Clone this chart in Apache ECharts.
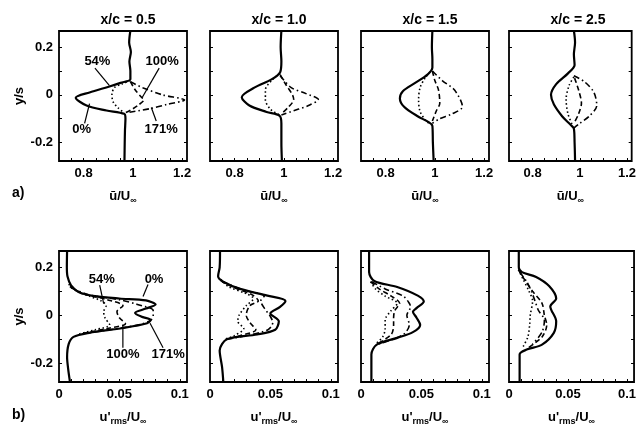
<!DOCTYPE html>
<html><head><meta charset="utf-8">
<script src="https://cdn.jsdelivr.net/npm/echarts@6.0.0/dist/echarts.min.js"></script>
<style>html,body{margin:0;padding:0;background:#fff}#c{width:639px;height:429px}</style>
</head><body><div id="c"></div>
<script>
// ---------- labels ----------
const stations = ['x/c = 0.5', 'x/c = 1.0', 'x/c = 1.5', 'x/c = 2.5'];
const cases = ['0%', '54%', '100%', '171%'];
const meanLabelTicks = [0.8, 1, 1.2];
const meanMinorTicks = [0.75, 0.8, 0.85, 0.9, 0.95, 1, 1.05, 1.1, 1.15, 1.2];
const rmsLabelTicks = [0, 0.05, 0.1];
const rmsMinorTicks = [0.01, 0.02, 0.03, 0.04, 0.05, 0.06, 0.07, 0.08, 0.09, 0.1];
const yLabelTicks = [-0.2, 0, 0.2];
const yMinorTicks = [-0.2, -0.1, 0, 0.1, 0.2];

// ---------- a) mean velocity profiles [u/Uinf, y/s] ----------
const mean05_0 = [[0.99,0.27],[0.985,0.22],[0.992,0.18],[0.986,0.14],[0.99,0.1],[0.99,0.065],[0.95,0.05],[0.905,0.035],[0.824,0.01],[0.768,-0.012],[0.812,-0.045],[0.893,-0.066],[0.965,-0.08],[0.97,-0.1],[0.968,-0.15],[0.967,-0.2],[0.966,-0.275]];
const mean05_54 = [[0.99,0.06],[0.955,0.045],[0.925,0.03],[0.915,0.0],[0.92,-0.03],[0.94,-0.055],[0.965,-0.075]];
const mean05_100 = [[0.99,0.055],[1.01,0.02],[1.035,-0.01],[1.045,-0.02],[1.02,-0.045],[0.99,-0.065],[0.97,-0.075]];
const mean05_171 = [[0.99,0.055],[1.04,0.03],[1.12,0.0],[1.21,-0.022],[1.14,-0.04],[1.07,-0.058],[0.975,-0.075]];

const mean10_0 = [[0.99,0.27],[0.987,0.2],[0.99,0.14],[0.985,0.095],[0.95,0.065],[0.88,0.03],[0.829,-0.01],[0.86,-0.045],[0.93,-0.072],[0.983,-0.088],[0.99,-0.12],[0.99,-0.2],[0.992,-0.275]];
const mean10_54 = [[0.985,0.09],[0.95,0.06],[0.925,0.02],[0.925,-0.02],[0.945,-0.06],[0.983,-0.085]];
const mean10_100 = [[0.985,0.085],[1.01,0.04],[1.035,0.0],[1.04,-0.02],[1.02,-0.05],[0.99,-0.08]];
const mean10_171 = [[0.985,0.08],[1.03,0.03],[1.09,0.005],[1.14,-0.02],[1.1,-0.045],[1.06,-0.06],[0.99,-0.085]];

const mean15_0 = [[0.99,0.27],[0.988,0.2],[0.99,0.15],[0.99,0.115],[0.97,0.085],[0.92,0.05],[0.87,0.015],[0.858,-0.015],[0.875,-0.05],[0.93,-0.09],[0.975,-0.115],[0.99,-0.13],[0.992,-0.2],[0.995,-0.275]];
const mean15_54 = [[0.99,0.11],[0.96,0.07],[0.94,0.03],[0.934,-0.02],[0.94,-0.07],[0.965,-0.11],[0.985,-0.125]];
const mean15_100 = [[0.99,0.1],[1.0,0.06],[1.015,0.02],[1.02,-0.035],[1.005,-0.07],[0.99,-0.11]];
const mean15_171 = [[0.99,0.1],[1.03,0.06],[1.08,0.02],[1.112,-0.05],[1.07,-0.08],[1.02,-0.1],[0.99,-0.12]];

const mean25_0 = [[0.975,0.27],[0.98,0.22],[0.975,0.17],[0.978,0.125],[0.95,0.09],[0.9,0.045],[0.878,0.0],[0.89,-0.04],[0.925,-0.09],[0.96,-0.125],[0.975,-0.142],[0.978,-0.2],[0.98,-0.275]];
const mean25_54 = [[0.975,0.075],[0.955,0.04],[0.942,-0.02],[0.95,-0.08],[0.97,-0.13]];
const mean25_100 = [[0.978,0.07],[0.995,0.02],[1.007,-0.035],[0.995,-0.08],[0.975,-0.12]];
const mean25_171 = [[0.975,0.08],[1.02,0.055],[1.06,0.01],[1.072,-0.045],[1.04,-0.09],[1.0,-0.12],[0.975,-0.14]];

// ---------- b) rms velocity profiles [u'rms/Uinf, y/s] ----------
const rms05_0 = [[0.0067,0.27],[0.0065,0.2],[0.007,0.163],[0.01,0.125],[0.017,0.095],[0.03,0.08],[0.05,0.07],[0.072,0.062],[0.08,0.045],[0.072,0.028],[0.063,0.01],[0.068,-0.005],[0.076,-0.02],[0.073,-0.033],[0.053,-0.053],[0.025,-0.073],[0.012,-0.09],[0.008,-0.12],[0.0067,-0.175],[0.0075,-0.22],[0.009,-0.275]];
const rms05_54 = [[0.008,0.13],[0.015,0.1],[0.025,0.08],[0.035,0.06],[0.039,0.04],[0.037,0.015],[0.038,-0.01],[0.042,-0.04],[0.03,-0.06],[0.015,-0.08]];
const rms05_100 = [[0.009,0.12],[0.02,0.09],[0.04,0.065],[0.053,0.04],[0.048,0.015],[0.05,-0.01],[0.055,-0.035],[0.04,-0.055],[0.02,-0.075]];
const rms05_171 = [[0.01,0.115],[0.025,0.085],[0.05,0.065],[0.065,0.045],[0.078,0.02],[0.078,-0.002],[0.076,-0.02],[0.066,-0.04],[0.045,-0.058],[0.022,-0.075]];

const rms10_0 = [[0.0083,0.27],[0.008,0.2],[0.0067,0.163],[0.011,0.14],[0.025,0.11],[0.0475,0.082],[0.0625,0.06],[0.058,0.035],[0.05,0.008],[0.057,-0.025],[0.054,-0.06],[0.039,-0.08],[0.014,-0.1],[0.008,-0.147],[0.01,-0.216],[0.011,-0.275]];
const rms10_54 = [[0.009,0.15],[0.015,0.12],[0.03,0.09],[0.036,0.07],[0.03,0.04],[0.024,0.0],[0.023,-0.025],[0.028,-0.055],[0.02,-0.085],[0.012,-0.1]];
const rms10_100 = [[0.009,0.145],[0.02,0.115],[0.035,0.085],[0.04,0.06],[0.033,0.04],[0.03,0.0],[0.033,-0.03],[0.038,-0.06],[0.025,-0.085],[0.013,-0.1]];
const rms10_171 = [[0.01,0.14],[0.028,0.105],[0.045,0.08],[0.042,0.06],[0.045,0.03],[0.05,-0.005],[0.052,-0.03],[0.048,-0.06],[0.03,-0.085],[0.014,-0.1]];

const rms15_0 = [[0.0067,0.27],[0.0067,0.18],[0.011,0.143],[0.03,0.118],[0.047,0.082],[0.052,0.057],[0.046,0.03],[0.043,0.015],[0.046,-0.01],[0.049,-0.04],[0.043,-0.07],[0.03,-0.094],[0.013,-0.122],[0.0086,-0.163],[0.0086,-0.275]];
const rms15_54 = [[0.008,0.14],[0.012,0.11],[0.02,0.08],[0.03,0.05],[0.025,0.02],[0.02,-0.02],[0.02,-0.055],[0.018,-0.09],[0.012,-0.12]];
const rms15_100 = [[0.008,0.14],[0.015,0.11],[0.025,0.08],[0.032,0.05],[0.028,0.02],[0.027,-0.01],[0.027,-0.04],[0.025,-0.08],[0.013,-0.12]];
const rms15_171 = [[0.009,0.14],[0.02,0.11],[0.035,0.08],[0.04,0.05],[0.041,0.035],[0.038,0.0],[0.04,-0.04],[0.035,-0.08],[0.015,-0.12]];

const rms25_0 = [[0.0083,0.27],[0.0083,0.2],[0.011,0.18],[0.023,0.16],[0.034,0.122],[0.04,0.07],[0.035,0.037],[0.04,-0.025],[0.038,-0.073],[0.028,-0.122],[0.015,-0.143],[0.009,-0.163],[0.009,-0.275]];
const rms25_54 = [[0.008,0.19],[0.012,0.15],[0.017,0.1],[0.02,0.06],[0.018,0.0],[0.0175,-0.04],[0.016,-0.09],[0.012,-0.13]];
const rms25_100 = [[0.008,0.19],[0.013,0.15],[0.02,0.1],[0.028,0.05],[0.03,0.0],[0.032,-0.04],[0.028,-0.09],[0.015,-0.14]];
const rms25_171 = [[0.009,0.18],[0.015,0.14],[0.019,0.1],[0.022,0.06],[0.025,0.02],[0.03,-0.02],[0.028,-0.07],[0.02,-0.12]];

// ---------- annotations (data coords of first-column panels) ----------
const annMean = [
  {t:'54%',  at:[0.856,0.14],  from:[0.846,0.112], to:[0.905,0.039]},
  {t:'100%', at:[1.119,0.14],  from:[1.107,0.112], to:[1.038,-0.011]},
  {t:'0%',   at:[0.792,-0.146],from:[0.804,-0.12], to:[0.824,-0.037]},
  {t:'171%', at:[1.115,-0.146],from:[1.095,-0.11], to:[1.075,-0.053]}
];
const annRms = [
  {t:'54%',  at:[0.0354,0.151], from:[0.0337,0.126], to:[0.037,0.049]},
  {t:'0%',   at:[0.0787,0.151], from:[0.0737,0.128], to:[0.0696,0.078]},
  {t:'100%', at:[0.0529,-0.163],from:[0.0529,-0.135],to:[0.0529,-0.041]},
  {t:'171%', at:[0.0904,-0.163],from:[0.0862,-0.135],to:[0.0754,-0.033]}
];

const meanSets = [[mean05_0,mean05_54,mean05_100,mean05_171],[mean10_0,mean10_54,mean10_100,mean10_171],[mean15_0,mean15_54,mean15_100,mean15_171],[mean25_0,mean25_54,mean25_100,mean25_171]];
const rmsSets = [[rms05_0,rms05_54,rms05_100,rms05_171],[rms10_0,rms10_54,rms10_100,rms10_171],[rms15_0,rms15_54,rms15_100,rms15_171],[rms25_0,rms25_54,rms25_100,rms25_171]];

// ---------- layout / style ----------
const FONT = '"Liberation Sans", Arial, sans-serif';
const lefts = [59, 210, 361, 509];
const W = 128;
const rows = [{top:31, height:130}, {top:251, height:131}];
const Y_MIN = -0.278, Y_MAX = 0.268;
const lineStyles = [
  {type:'solid', width:2.2},
  {type:[1.5,2.5], width:1.6},
  {type:[5,3], width:1.6},
  {type:[6,3,1.5,3], width:1.6}
];

const grid = [], xAxis = [], yAxis = [], series = [], title = [];
const nameRich = {
  n: {fontSize:13, fontWeight:'bold', fontFamily:FONT, color:'#000', lineHeight:15, verticalAlign:'top'},
  s: {fontSize:9, fontWeight:'bold', fontFamily:FONT, color:'#000', lineHeight:15, verticalAlign:'bottom'}
};

for (let r = 0; r < 2; r++) {
  for (let c = 0; c < 4; c++) {
    const gi = r * 4 + c;
    grid.push({left: lefts[c], top: rows[r].top, width: W, height: rows[r].height,
      show: true, borderColor: '#000', borderWidth: 1.8, backgroundColor: '#fff'});
    const isMean = r === 0;
    xAxis.push({
      type: 'value', gridIndex: gi, position: 'bottom',
      min: isMean ? 0.7 : 0, max: isMean ? 1.22 : 0.106,
      name: isMean ? '{n|\u016B/U}{s|\u221E}' : "{n|u'}{s|rms}{n|/U}{s|\u221E}",
      nameLocation: 'middle', nameGap: 29,
      nameTextStyle: {rich: nameRich},
      axisLine: {show: false, onZero: false},
      axisTick: {show: true, inside: true, length: 3, customValues: isMean ? meanMinorTicks : rmsMinorTicks, lineStyle:{color:'#000', width:1}},
      axisLabel: {show: true, margin: 6, customValues: isMean ? meanLabelTicks : rmsLabelTicks,
        fontSize: 13, fontWeight: 'bold', fontFamily: FONT, color: '#000'},
      splitLine: {show: false}
    });
    yAxis.push({
      type: 'value', gridIndex: gi, min: Y_MIN, max: Y_MAX, position: 'left',
      name: c === 0 ? 'y/s' : '', nameLocation: 'middle', nameGap: 33, nameRotate: 90,
      nameTextStyle: {fontSize: 13, fontWeight: 'bold', fontFamily: FONT, color: '#000'},
      axisLine: {show: false, onZero: false},
      axisTick: {show: true, inside: true, length: 3, customValues: yMinorTicks, lineStyle:{color:'#000', width:1}},
      axisLabel: {show: c === 0, margin: 6, customValues: yLabelTicks,
        fontSize: 13, fontWeight: 'bold', fontFamily: FONT, color: '#000'},
      splitLine: {show: false}
    });
    yAxis.push({
      type: 'value', gridIndex: gi, min: Y_MIN, max: Y_MAX, position: 'right',
      axisLine: {show: false, onZero: false},
      axisTick: {show: true, inside: true, length: 3, customValues: yMinorTicks, lineStyle:{color:'#000', width:1}},
      axisLabel: {show: false}, splitLine: {show: false}
    });
    const sets = isMean ? meanSets[c] : rmsSets[c];
    for (const k of [3, 2, 1, 0]) {
      series.push({
        type: 'line', name: cases[k], xAxisIndex: gi, yAxisIndex: gi * 2,
        data: sets[k], showSymbol: false, symbol: 'none', smooth: 0.3,
        lineStyle: Object.assign({color: '#000'}, lineStyles[k]),
        silent: true, animation: false
      });
    }
    if (r === 0) {
      title.push({text: stations[c], left: lefts[c] + W / 2, top: 8, textAlign: 'center',
        textStyle: {fontSize: 14, fontWeight: 'bold', fontFamily: FONT, color: '#000'}});
    }
  }
}

const chart = echarts.init(document.getElementById('c'), null, {renderer: 'canvas'});
chart.setOption({animation: false, backgroundColor: '#fff', title, grid, xAxis, yAxis, series});

// annotations + panel letters
const graphic = [];
function addAnn(list, gi) {
  for (const a of list) {
    const p = chart.convertToPixel({xAxisIndex: gi, yAxisIndex: gi * 2}, a.at);
    const f = chart.convertToPixel({xAxisIndex: gi, yAxisIndex: gi * 2}, a.from);
    const t = chart.convertToPixel({xAxisIndex: gi, yAxisIndex: gi * 2}, a.to);
    graphic.push({type: 'text', x: p[0], y: p[1], z: 100,
      style: {text: a.t, fill: '#000', font: 'bold 13px ' + FONT, textAlign: 'center', textVerticalAlign: 'middle'}});
    graphic.push({type: 'line', z: 100, shape: {x1: f[0], y1: f[1], x2: t[0], y2: t[1]},
      style: {stroke: '#000', lineWidth: 1.2}});
  }
}
addAnn(annMean, 0);
addAnn(annRms, 4);
graphic.push({type: 'text', x: 12, y: 193, style: {text: 'a)', fill: '#000', font: 'bold 14px ' + FONT, textVerticalAlign: 'middle'}});
graphic.push({type: 'text', x: 12, y: 415, style: {text: 'b)', fill: '#000', font: 'bold 14px ' + FONT, textVerticalAlign: 'middle'}});
chart.setOption({graphic});
</script>
</body></html>
